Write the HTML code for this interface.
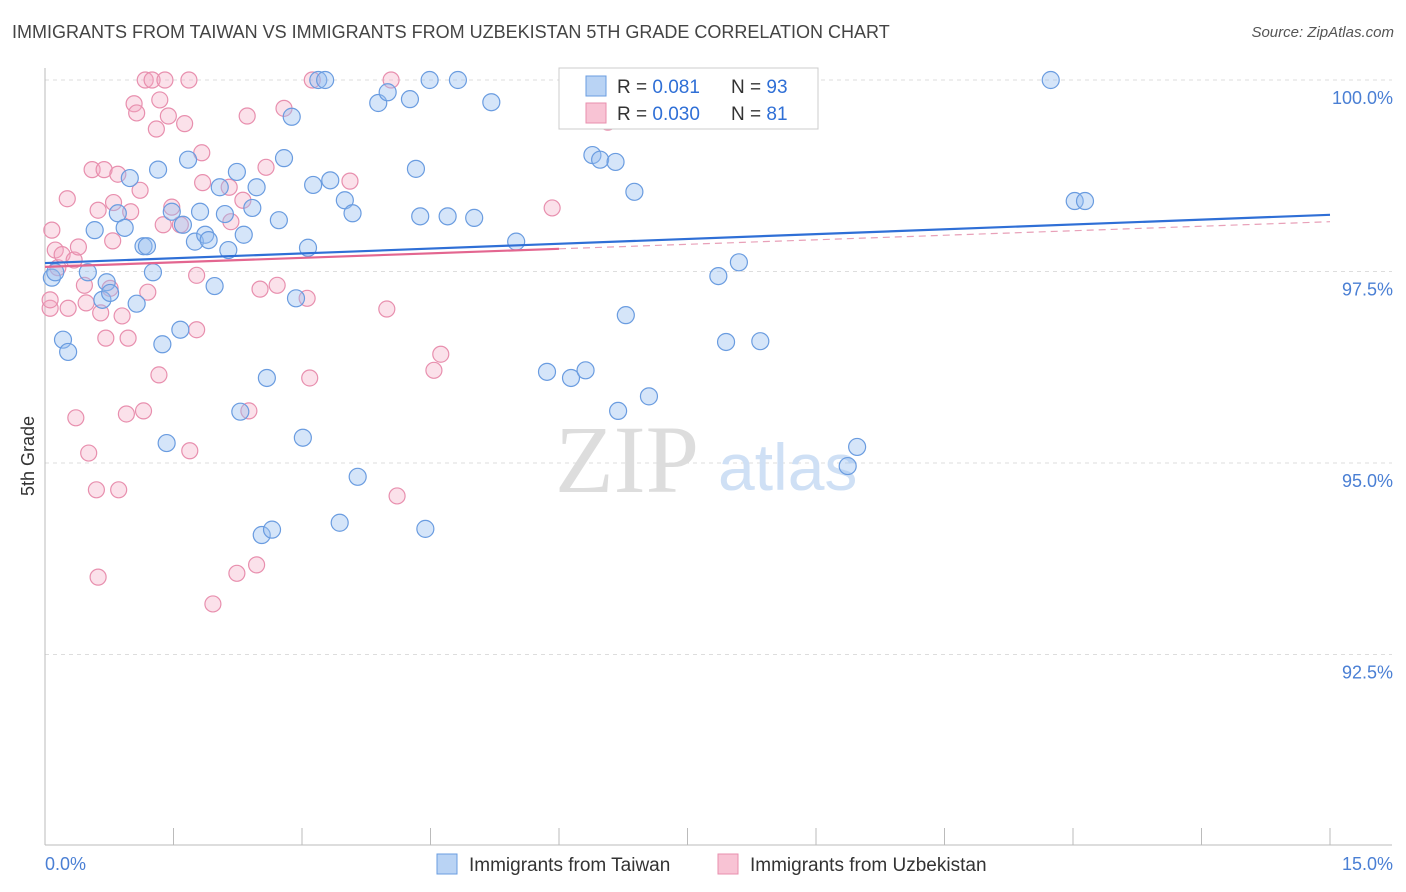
<!DOCTYPE html>
<html><head><meta charset="utf-8"><style>
body{margin:0;background:#fff;font-family:"Liberation Sans",sans-serif;}
#wrap{position:relative;width:1406px;height:892px;overflow:hidden;}
.t{position:absolute;white-space:nowrap;}
</style></head><body>
<div id="wrap">
<div class="t" style="left:12px;top:22px;font-size:18px;color:#444;">IMMIGRANTS FROM TAIWAN VS IMMIGRANTS FROM UZBEKISTAN 5TH GRADE CORRELATION CHART</div>
<div class="t" style="right:12px;top:24px;font-size:15px;color:#555;font-style:italic;">Source: ZipAtlas.com</div>
<svg id="svg" width="1406" height="892" style="position:absolute;left:0;top:0"></svg>
</div>
<script>
const blueX=[0.08,0.12,0.21,0.27,0.50,0.58,0.67,0.72,0.76,0.85,0.93,0.99,1.07,1.15,1.19,1.26,1.32,1.37,1.42,1.48,1.58,1.61,1.67,1.75,1.81,1.87,1.91,1.98,2.04,2.10,2.14,2.24,2.28,2.32,2.42,2.47,2.53,2.59,2.65,2.73,2.79,2.88,2.93,3.01,3.07,3.13,3.19,3.27,3.33,3.44,3.50,3.59,3.65,3.89,4.00,4.26,4.33,4.38,4.44,4.49,4.70,4.82,5.01,5.21,5.50,5.86,6.14,6.31,6.31,6.39,6.48,6.66,6.69,6.78,6.88,7.05,7.86,7.95,8.10,8.35,9.37,9.48,11.74,12.02,12.14];
const blueY=[97.42,97.49,96.61,96.45,97.49,98.04,97.13,97.36,97.22,98.26,98.07,98.72,97.08,97.83,97.83,97.49,98.83,96.55,95.26,98.28,96.74,98.11,98.96,97.89,98.28,97.98,97.91,97.31,98.60,98.25,97.78,98.80,95.67,97.98,98.33,98.60,94.06,96.11,94.13,98.17,98.98,99.52,97.15,95.33,97.81,98.63,100,100,98.69,94.22,98.43,98.26,94.82,99.70,99.84,99.75,98.84,98.22,94.14,100,98.22,100,98.20,99.71,97.89,96.19,96.11,96.21,100,99.02,98.96,98.93,95.68,96.93,98.54,95.87,97.44,96.58,97.62,96.59,94.96,95.21,100,98.42,98.42];
const pinkX=[0.06,0.06,0.08,0.12,0.15,0.20,0.27,0.26,0.34,0.36,0.39,0.46,0.48,0.51,0.55,0.60,0.62,0.62,0.65,0.69,0.71,0.76,0.79,0.80,0.85,0.86,0.90,0.95,0.97,1.00,1.04,1.07,1.11,1.15,1.17,1.20,1.25,1.30,1.33,1.34,1.38,1.40,1.44,1.48,1.58,1.63,1.68,1.69,1.77,1.77,1.83,1.84,1.96,2.15,2.17,2.24,2.31,2.36,2.38,2.47,2.51,2.58,2.71,2.79,3.06,3.09,3.12,3.56,3.99,4.04,4.11,4.54,4.62,5.92,6.57];
const pinkY=[97.02,97.13,98.04,97.78,97.55,97.72,97.02,98.45,97.65,95.59,97.82,97.32,97.09,95.13,98.83,94.65,93.51,98.30,96.96,98.83,96.63,97.28,97.90,98.40,98.77,94.65,96.92,95.64,96.63,98.28,99.69,99.57,98.56,95.68,100,97.23,100,99.36,96.15,99.74,98.11,100,99.53,98.34,98.11,99.43,100,95.16,97.45,96.74,99.05,98.66,93.16,98.60,98.15,93.56,98.43,99.53,95.68,93.67,97.27,98.86,97.32,99.63,97.15,96.11,100,98.68,97.01,100,94.57,96.21,96.42,98.33,99.45];
const blueTrend=[97.61,98.24];
const pinkTrend=[97.56,98.15];
const yTicks=[100,97.5,95,92.5];
const yTickLabels=["100.0%","97.5%","95.0%","92.5%"];
const xTicks=[0,1.5,3,4.5,6,7.5,9,10.5,12,13.5,15];

const X=v=>45+v*(1285/15);
const Y=v=>80+(100-v)*76.6;
const svg=document.getElementById('svg');
const NS='http://www.w3.org/2000/svg';
function mk(tag,at,parent){const e=document.createElementNS(NS,tag);for(const k in at)e.setAttribute(k,at[k]);(parent||svg).appendChild(e);return e;}

// gridlines
yTicks.forEach((v,i)=>{
  const l=mk('line',{x1:45,x2:1392,y1:Y(v),y2:Y(v),stroke:'#ddd','stroke-dasharray':'4,4'});
  
  
  const t=mk('text',{x:1393,y:Y(v)+24,'text-anchor':'end','font-size':18,fill:'#4a7fd4','font-family':'Liberation Sans'});
  t.textContent=yTickLabels[i];
  
  
});
const topg=mk('line',{x1:45,x2:1392,y1:Y(100),y2:Y(100),stroke:'#ddd','stroke-dasharray':'4,4'});
// axes
const xa=mk('line',{x1:45,x2:1392,y1:845,y2:845,stroke:'#bbb'});


const ya=mk('line',{x1:45,x2:45,y1:68,y2:845,stroke:'#bbb'});


xTicks.forEach(v=>{
  const l=mk('line',{x1:X(v),x2:X(v),y1:828,y2:845,stroke:'#bbb'});
  
  
});
const xl0=mk('text',{x:45,y:870,'font-size':18,fill:'#4a7fd4','font-family':'Liberation Sans'});xl0.textContent='0.0%';


const xl1=mk('text',{x:1393,y:870,'text-anchor':'end','font-size':18,fill:'#4a7fd4','font-family':'Liberation Sans'});xl1.textContent='15.0%';


const yt=mk('text',{x:34,y:456,'text-anchor':'middle','font-size':18,fill:'#333',transform:'rotate(-90 34 456)','font-family':'Liberation Sans'});yt.textContent='5th Grade';


// watermark
const wm=mk('text',{x:555,y:492,'font-size':96,fill:'#ddd','font-family':'Liberation Serif'});wm.textContent='ZIP';


const wm2=mk('text',{x:718,y:490,'font-size':66,fill:'#cfe0f5','font-family':'Liberation Sans'});wm2.textContent='atlas';


// points
pinkX.forEach((x,i)=>{
  const c=mk('circle',{cx:X(x),cy:Y(pinkY[i]),r:8,fill:'rgba(244,170,195,0.35)',stroke:'#e88fae','stroke-width':1.2});
  
  
});
blueX.forEach((x,i)=>{
  const c=mk('circle',{cx:X(x),cy:Y(blueY[i]),r:8.5,fill:'rgba(150,190,240,0.4)',stroke:'#6a9ce0','stroke-width':1.2});
  
  
});
// trends
const pd=mk('line',{x1:X(6),y1:Y(pinkTrend[0]+(pinkTrend[1]-pinkTrend[0])*6/15),x2:X(15),y2:Y(pinkTrend[1]),stroke:'#e8a0b8','stroke-width':1.2,'stroke-dasharray':'7,5'});


const ps=mk('line',{x1:X(0),y1:Y(pinkTrend[0]),x2:X(6),y2:Y(pinkTrend[0]+(pinkTrend[1]-pinkTrend[0])*6/15),stroke:'#e36690','stroke-width':2.2});


const bt=mk('line',{x1:X(0),y1:Y(blueTrend[0]),x2:X(15),y2:Y(blueTrend[1]),stroke:'#2f6fd6','stroke-width':2.2});


// legend box
const lb=mk('rect',{x:559,y:68,width:259,height:61,fill:'#fff',stroke:'#ccc'});


function legRow(y,fill,stroke,r,n){
  mk('rect',{x:586,y:y-10,width:20,height:20,fill:fill,stroke:stroke});
  const a=mk('text',{x:617,y:y+7,'font-size':19,fill:'#333','font-family':'Liberation Sans'});
  a.innerHTML='R = <tspan fill="#2f6fd6">'+r+'</tspan>';
  const b=mk('text',{x:731,y:y+7,'font-size':19,fill:'#333','font-family':'Liberation Sans'});
  b.innerHTML='N = <tspan fill="#2f6fd6">'+n+'</tspan>';
}
legRow(86,'#b9d3f4','#6a9ce0',' 0.081','93');
legRow(113,'#f8c3d4','#e88fae','0.030',' 81');
// bottom legend
const g1=mk('rect',{x:437,y:854,width:20,height:20,fill:'#b9d3f4',stroke:'#6a9ce0'});


const gt1=mk('text',{x:469,y:871,'font-size':19,fill:'#333','font-family':'Liberation Sans'});gt1.textContent='Immigrants from Taiwan';


const g2=mk('rect',{x:718,y:854,width:20,height:20,fill:'#f8c3d4',stroke:'#e88fae'});


const gt2=mk('text',{x:750,y:871,'font-size':19,fill:'#333','font-family':'Liberation Sans'});gt2.textContent='Immigrants from Uzbekistan';


</script>
</body></html>
